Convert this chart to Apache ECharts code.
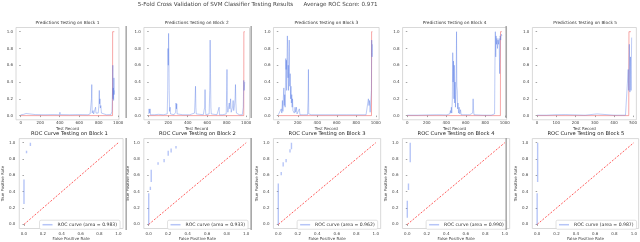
<!DOCTYPE html>
<html><head><meta charset="utf-8">
<script src="https://cdn.jsdelivr.net/npm/echarts@6/dist/echarts.min.js"></script>
<style>html,body{margin:0;padding:0;background:#fff}#c{width:640px;height:242px}</style>
</head><body><div id="c"></div>
<script>
// ---------------- data ----------------
const mainTitle = '5-Fold Cross Validation of SVM Classifier Testing Results';
const avgTitle = 'Average ROC Score: 0.971';
const blocks = ['Block 1', 'Block 2', 'Block 3', 'Block 4', 'Block 5'];
const recordTicks = [0, 200, 400, 600, 800, 1000];
const recordTicks5 = [0, 100, 200, 300, 400, 500];
const rateTicks = [0, 0.2, 0.4, 0.6, 0.8, 1.0];
const recordCounts = [960, 985, 985, 970, 492];

const pred1 = [[0,0.01],[30,0.015],[55,0.025],[62,0.01],[150,0.012],[250,0.01],[330,0.012],[398,0.01],[402,0.04],[406,0.012],[500,0.01],[600,0.012],[690,0.01],[712,0.02],[722,0.04],[726,0.2],[729,0.37],[733,0.03],[742,0.06],[748,0.02],[760,0.04],[768,0.1],[772,0.03],[785,0.05],[795,0.03],[802,0.12],[806,0.3],[809,0.14],[813,0.2],[817,0.09],[822,0.12],[828,0.03],[840,0.015],[880,0.01],[925,0.012],[936,0.05],[940,0.22],[943,0.35],[945,0.6],[947,0.2],[950,0.33],[953,0.18],[956,0.45],[958,0.25],[960,0.3]];
const pred2 = [[0,0.02],[4,0.08],[10,0.03],[14,0.08],[18,0.01],[60,0.01],[100,0.015],[150,0.01],[190,0.02],[195,0.3],[198,0.8],[201,0.6],[204,0.98],[207,0.7],[210,0.3],[214,0.05],[220,0.1],[224,0.02],[260,0.01],[276,0.04],[280,0.15],[284,0.08],[288,0.14],[292,0.02],[350,0.01],[420,0.01],[470,0.03],[476,0.2],[480,0.35],[484,0.1],[488,0.02],[560,0.01],[574,0.1],[578,0.31],[582,0.08],[586,0.01],[620,0.02],[626,0.3],[630,0.9],[634,0.5],[638,0.1],[642,0.02],[700,0.01],[718,0.02],[722,0.1],[726,0.01],[745,0.03],[760,0.01],[795,0.02],[800,0.3],[803,0.55],[806,0.12],[812,0.04],[826,0.15],[832,0.08],[840,0.2],[846,0.04],[860,0.1],[866,0.18],[872,0.06],[880,0.12],[886,0.2],[890,0.37],[894,0.15],[900,0.03],[930,0.01],[960,0.01],[970,0.1],[975,0.42],[979,0.3],[985,0.4]];
const pred3 = [[0,0.01],[20,0.02],[30,0.08],[36,0.03],[42,0.18],[47,0.05],[52,0.22],[57,0.33],[61,0.12],[66,0.25],[70,0.1],[74,0.4],[77,0.68],[80,0.55],[83,0.66],[86,0.3],[90,0.7],[93,0.95],[96,0.8],[99,0.45],[102,0.6],[105,0.3],[108,0.55],[112,0.9],[115,0.5],[118,0.35],[122,0.5],[126,0.2],[130,0.35],[134,0.15],[138,0.25],[142,0.1],[146,0.2],[150,0.06],[158,0.08],[164,0.03],[172,0.1],[178,0.04],[186,0.1],[192,0.02],[200,0.04],[210,0.03],[216,0.08],[222,0.01],[260,0.01],[268,0.03],[274,0.01],[300,0.01],[306,0.2],[309,0.55],[312,0.02],[340,0.01],[420,0.01],[488,0.01],[492,0.02],[496,0.01],[600,0.01],[700,0.01],[800,0.01],[900,0.01],[918,0.03],[924,0.2],[930,0.12],[936,0.18],[942,0.04],[950,0.05],[955,0.3],[958,0.9],[962,0.7],[965,0.85]];
const pred4 = [[0,0.005],[100,0.005],[200,0.008],[300,0.01],[305,0.02],[310,0.005],[345,0.01],[400,0.008],[436,0.02],[442,0.06],[447,0.03],[452,0.1],[456,0.03],[462,0.2],[466,0.75],[470,0.4],[474,0.65],[478,0.2],[482,0.6],[486,0.15],[490,0.4],[494,0.1],[498,0.25],[502,0.5],[505,1.0],[508,0.35],[512,0.3],[516,0.08],[520,0.15],[526,0.03],[532,0.1],[538,0.02],[546,0.07],[552,0.01],[580,0.01],[640,0.01],[670,0.03],[675,0.2],[679,0.08],[684,0.01],[691,0.03],[696,0.005],[780,0.005],[860,0.005],[895,0.02],[899,0.6],[903,1.0],[907,0.7],[911,0.95],[915,0.85],[920,0.92],[925,0.8],[930,0.9],[936,0.85],[942,0.92],[947,0.5],[952,0.95],[958,0.9],[964,0.97],[970,0.95]];
const pred5 = [[0,0.005],[50,0.005],[92,0.01],[96,0.005],[148,0.012],[152,0.005],[250,0.005],[312,0.02],[316,0.005],[400,0.005],[460,0.005],[470,0.02],[474,0.55],[477,0.3],[480,0.85],[483,0.28],[486,0.7],[489,0.3],[492,0.93]];

const actual1 = [[0,0],[942,0],[943,1],[960,1]];
const actual2 = [[0,0],[975,0],[976,1],[985,1]];
const actual3 = [[0,0],[956,0],[957,1],[965,1]];
const actual4 = [[0,0],[955,0],[956,1],[970,1]];
const actual5 = [[0,0],[477,0],[478,1],[488,1]];

const aucs = [0.983, 0.933, 0.962, 0.990, 0.987];
// ROC visible segments: [false positive rate, tpr from, tpr to]
const roc1 = [[0,0.25,0.55],[0.027,0.87,0.9],[0.068,0.96,1.0]];
const roc2 = [[0,0,0.38],[0.017,0.42,0.46],[0.026,0.52,0.67],[0.096,0.73,0.76],[0.158,0.76,0.8],[0.2,0.84,0.9],[0.23,0.88,0.93],[0.28,0.93,0.96]];
const roc3 = [[0,0,0.5],[0.03,0.6,0.64],[0.05,0.71,0.76],[0.08,0.76,0.8],[0.12,0.88,0.92],[0.135,0.92,1.0]];
const roc4 = [[0,0.08,0.29],[0.012,0.42,0.5],[0.03,0.76,1.0]];
const roc5 = [[0,0,0.38],[0.005,0.52,1.0]];
const diagonal = [[0,0],[1,1]];

// ---------------- layout ----------------
const FONT = 'DejaVu Sans';
const X0 = [20.7, 148.7, 278.3, 407.3, 537.2];
const UNIT = 97.5;
const Y1T = 31.7, Y0T = 115.6;
const Y1B = 142.8, Y0B = 227;

const preds = [pred1, pred2, pred3, pred4, pred5];
const actuals = [actual1, actual2, actual3, actual4, actual5];
const rocs = [roc1, roc2, roc3, roc4, roc5];
const tickSets = [recordTicks, recordTicks, recordTicks, recordTicks, recordTicks5];

const grid = [], xAxis = [], yAxis = [], series = [], legend = [], graphic = [];
const f1 = v => v.toFixed(1);

function axisCommon(ticks, fmt, margin) {
  return {
    axisLine: {show: false},
    splitLine: {show: false},
    axisTick: {show: true, customValues: ticks, length: 1.5, lineStyle: {color: '#666', width: 0.6}},
    axisLabel: {customValues: ticks, formatter: fmt, fontSize: 4, fontFamily: FONT, color: '#444', margin: margin}
  };
}

for (let i = 0; i < 5; i++) {
  // top: predictions
  const N = recordCounts[i];
  const ticks = tickSets[i];
  const ppr = UNIT / ticks[ticks.length - 1];
  const hT = Y0T - Y1T;
  const gT = {left: X0[i] - 0.05 * N * ppr, top: Y1T - 0.05 * hT, width: 1.1 * N * ppr, height: 1.1 * hT,
    show: true, borderColor: '#cfcfcf', borderWidth: 0.8, backgroundColor: '#fff'};
  grid.push(gT);
  const gi = grid.length - 1;
  xAxis.push(Object.assign({type: 'value', gridIndex: gi, min: -0.05 * N, max: 1.05 * N,
    name: 'Test Record', nameLocation: 'middle', nameGap: 7.5,
    nameTextStyle: {fontSize: 4, fontFamily: FONT, color: '#444'}}, axisCommon(ticks, v => String(v), 1.5)));
  yAxis.push(Object.assign({type: 'value', gridIndex: gi, min: -0.05, max: 1.05}, axisCommon(rateTicks, f1, 3)));
  series.push({type: 'line', xAxisIndex: gi, yAxisIndex: gi, data: preds[i], symbol: 'none', silent: true,
    animation: false, color: 'rgba(65,105,225,0.5)', lineStyle: {color: 'rgba(65,105,225,0.5)', width: 0.7}, z: 3});
  series.push({type: 'line', xAxisIndex: gi, yAxisIndex: gi, data: actuals[i], symbol: 'none', silent: true,
    animation: false, color: 'rgba(240,80,80,0.5)', lineStyle: {color: 'rgba(240,80,80,0.5)', width: 1}, z: 2});
  graphic.push({type: 'text', x: gT.left + gT.width / 2, y: 23.3,
    style: {text: 'Predictions Testing on ' + blocks[i], fontSize: 4.3, fontFamily: FONT, fill: '#333', align: 'center', verticalAlign: 'middle'}});

  // bottom: ROC
  const hB = Y0B - Y1B;
  const gB = {left: X0[i] - 0.05 * UNIT, top: Y1B - 0.05 * hB, width: 1.1 * UNIT, height: 1.1 * hB,
    show: true, borderColor: '#cfcfcf', borderWidth: 0.8, backgroundColor: '#fff'};
  grid.push(gB);
  const gj = grid.length - 1;
  xAxis.push(Object.assign({type: 'value', gridIndex: gj, min: -0.05, max: 1.05,
    name: 'False Positive Rate', nameLocation: 'middle', nameGap: 8.5,
    nameTextStyle: {fontSize: 4, fontFamily: FONT, color: '#444'}}, axisCommon(rateTicks, f1, 3.5)));
  yAxis.push(Object.assign({type: 'value', gridIndex: gj, min: -0.05, max: 1.05,
    name: 'True Positive Rate', nameLocation: 'middle', nameGap: 10,
    nameTextStyle: {fontSize: 4, fontFamily: FONT, color: '#444'}}, axisCommon(rateTicks, f1, 4)));
  const rocData = [];
  rocs[i].forEach(s => { rocData.push([s[0], s[1]]); rocData.push([s[0], s[2]]); rocData.push([s[0], '-']); });
  const rocName = 'ROC curve (area = ' + aucs[i].toFixed(3) + ')';
  series.push({type: 'line', name: 'diag' + i, xAxisIndex: gj, yAxisIndex: gj, data: diagonal, symbol: 'none', silent: true,
    animation: false, color: '#f33', lineStyle: {color: '#f33', width: 0.8, type: [2, 1.5]}, z: 2});
  series.push({type: 'line', name: rocName, xAxisIndex: gj, yAxisIndex: gj, data: rocData, symbol: 'none', silent: true,
    connectNulls: false, animation: false, color: 'rgba(110,140,240,0.5)',
    lineStyle: {color: 'rgba(110,140,240,0.5)', width: 1.4}, z: 3});
  legend.push({show: true, data: [rocName], selectedMode: false, orient: 'horizontal',
    right: 640 - (gB.left + gB.width - 3), bottom: 242 - (gB.top + gB.height - 2),
    icon: 'rect', itemWidth: 10, itemHeight: 1.5, itemGap: 2,
    textStyle: {fontSize: 4.6, fontFamily: FONT, color: '#333'},
    padding: [2, 3, 2, 3], borderColor: '#ccc', borderWidth: 0.6, borderRadius: 1.5, backgroundColor: '#fff'});
  graphic.push({type: 'text', x: gB.left + gB.width / 2, y: 134,
    style: {text: 'ROC Curve Testing on ' + blocks[i], fontSize: 5.2, fontFamily: FONT, fill: '#222', align: 'center', verticalAlign: 'middle'}});
}

graphic.push({type: 'text', x: 215.5, y: 4.5,
  style: {text: mainTitle, fontSize: 5.6, fontFamily: FONT, fill: '#444', align: 'center', verticalAlign: 'middle'}});
graphic.push({type: 'text', x: 340.5, y: 4.5,
  style: {text: avgTitle, fontSize: 5.6, fontFamily: FONT, fill: '#444', align: 'center', verticalAlign: 'middle'}});
[125.5, 250.5, 505.5].forEach(x => {
  graphic.push({type: 'rect', shape: {x: x, y: 26, width: 1.3, height: 92}, style: {fill: '#999'}, z: 10});
  graphic.push({type: 'rect', shape: {x: x, y: 138, width: 1.3, height: 92}, style: {fill: '#999'}, z: 10});
});

const chart = echarts.init(document.getElementById('c'), null, {renderer: 'canvas'});
chart.setOption({animation: false, backgroundColor: '#fff', grid, xAxis, yAxis, series, legend, graphic});
</script>
</body></html>
